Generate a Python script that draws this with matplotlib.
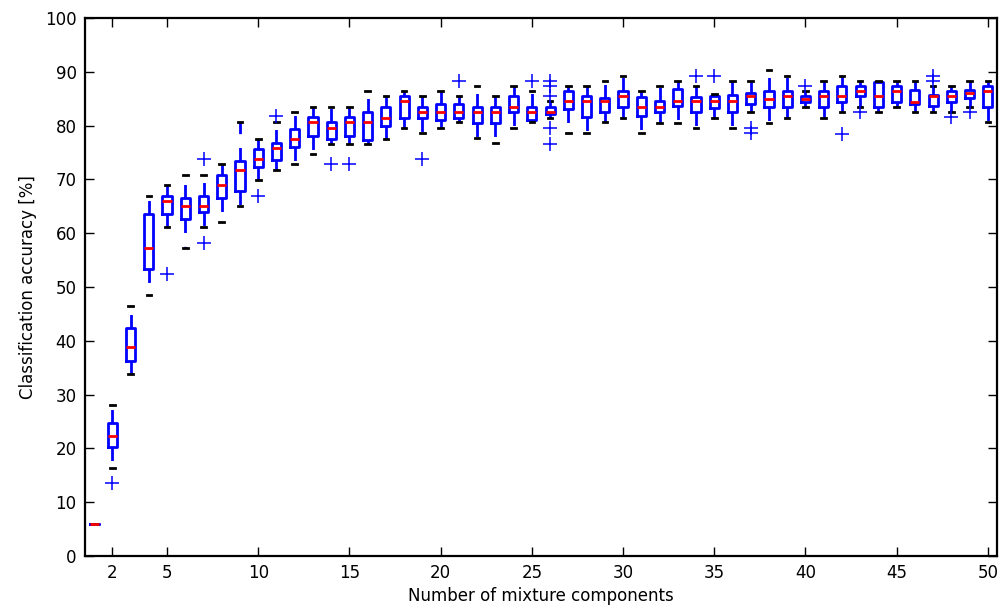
import matplotlib
matplotlib.use('Agg')
import matplotlib.pyplot as plt

# number of mixture components 1..50
components = list(range(1, 51))

# box statistics (classification accuracy, %)
whis_lo = [6.0, 16.4, 33.9, 48.5, 61.1, 57.2, 61.1, 62.1, 65.0, 69.9,
           71.8, 72.8, 74.8, 76.6, 76.6, 76.6, 77.6, 79.6, 78.6, 79.6,
           80.6, 77.7, 76.7, 79.6, 80.6, 81.5, 78.6, 78.6, 80.6, 81.5,
           78.6, 80.5, 80.5, 79.6, 81.5, 79.6, 82.5, 80.5, 81.5, 83.5,
           81.5, 82.5, 83.5, 82.5, 83.5, 82.5, 82.6, 82.5, 83.5, 80.6]
q1 = [6.0, 20.2, 36.3, 53.3, 63.5, 62.6, 64.0, 66.5, 67.9, 72.3,
      73.7, 76.1, 78.0, 77.6, 78.0, 77.3, 80.0, 81.5, 81.5, 81.1,
      81.5, 80.5, 80.5, 82.5, 81.1, 82.1, 83.0, 81.6, 82.5, 83.4,
      81.7, 82.5, 83.6, 82.5, 83.2, 82.5, 84.0, 83.4, 83.4, 84.4,
      83.4, 84.4, 85.5, 83.5, 84.4, 84.0, 83.6, 84.4, 85.2, 83.5]
med = [6.0, 22.3, 38.8, 57.2, 66.0, 65.0, 65.0, 68.9, 71.8, 73.8,
       75.8, 77.6, 80.6, 79.6, 80.6, 80.6, 81.5, 84.5, 82.5, 82.5,
       82.5, 82.5, 82.5, 83.5, 82.5, 82.5, 84.5, 84.5, 84.5, 85.5,
       83.5, 83.5, 84.5, 84.5, 84.5, 84.5, 85.5, 85.0, 85.5, 85.0,
       85.5, 85.5, 86.4, 85.5, 86.4, 84.4, 85.5, 85.5, 86.0, 86.4]
q3 = [6.0, 24.8, 42.3, 63.6, 67.0, 66.5, 67.0, 70.9, 73.4, 75.7,
      76.7, 79.3, 81.6, 80.6, 81.6, 82.6, 83.5, 85.5, 83.5, 84.1,
      84.1, 83.5, 83.5, 85.5, 83.5, 83.5, 86.4, 85.5, 85.1, 86.4,
      85.3, 84.5, 86.9, 85.3, 85.5, 85.7, 86.0, 86.4, 86.4, 85.5,
      86.4, 87.4, 87.4, 88.2, 87.4, 86.7, 85.6, 86.4, 86.7, 87.4]
whis_hi = [6.0, 28.1, 46.5, 67.0, 68.9, 70.8, 70.8, 72.8, 80.6, 77.6,
           80.6, 82.6, 83.5, 83.5, 83.5, 86.4, 85.5, 86.4, 85.5, 86.4,
           85.5, 87.4, 85.5, 87.4, 86.4, 84.5, 87.4, 87.4, 88.3, 89.3,
           86.4, 87.4, 88.3, 87.4, 85.8, 88.3, 88.3, 90.3, 89.3, 86.4,
           88.3, 89.3, 88.3, 88.3, 88.3, 88.3, 87.4, 87.4, 88.3, 88.3]
fliers = [[], [13.5], [], [], [52.4], [], [73.8, 58.2], [], [], [67.0],
          [81.7], [], [], [72.8], [72.8], [], [], [], [73.8], [],
          [88.3], [], [], [], [88.3], [88.3, 87.4, 85.5, 79.6, 76.6], [], [], [], [],
          [], [], [], [89.3], [89.3], [], [79.6, 78.7], [], [], [87.4],
          [], [78.5], [82.5], [], [], [], [89.3, 88.3], [81.6], [82.6], []]

plt.rcParams['lines.scale_dashes'] = False

stats = []
for i in range(len(components)):
    stats.append({'whislo': whis_lo[i], 'q1': q1[i], 'med': med[i],
                  'q3': q3[i], 'whishi': whis_hi[i], 'fliers': fliers[i]})

fig = plt.figure(figsize=(10.03, 6.11), dpi=100)
ax = fig.add_axes([0.0847, 0.0900, 0.9093, 0.8805])

ax.bxp(stats, positions=components, widths=0.5,
       boxprops=dict(color='#0000ff', lw=2),
       whiskerprops=dict(color='#0000ff', lw=2, linestyle=(0, (9.7, 10))),
       capprops=dict(color='black', lw=2),
       medianprops=dict(color='#ff0000', lw=2, zorder=2.1),
       flierprops=dict(marker='+', markeredgecolor='#0000ff',
                       markersize=10, markeredgewidth=1.1, linestyle='none'))

ax.set_xlim(0.5, 50.5)
ax.set_ylim(0, 100)
ax.set_xticks([2] + list(range(5, 51, 5)))
ax.set_xticklabels([str(t) for t in [2] + list(range(5, 51, 5))])
ax.set_yticks(range(0, 101, 10))

ax.tick_params(direction='in', top=True, right=True, length=6.5, width=1,
               labelsize=12, pad=6)
for s in ax.spines.values():
    s.set_linewidth(1.6)

ax.set_xlabel('Number of mixture components', fontsize=12, labelpad=3)
ax.set_ylabel('Classification accuracy [%]', fontsize=12, labelpad=6)

fig.savefig('out.png', dpi=100)
